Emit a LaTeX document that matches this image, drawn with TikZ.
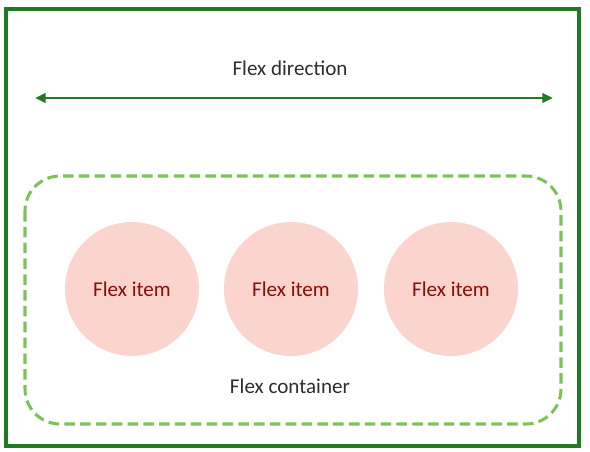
\documentclass[tikz,border=0pt]{standalone}
\usepackage{fontspec}
\setmainfont{Carlito}
\usetikzlibrary{arrows.meta}
\definecolor{framegreen}{HTML}{1F7A22}
\definecolor{dashgreen}{HTML}{7DC257}
\definecolor{itemfill}{HTML}{FBD5CD}
\definecolor{itemtext}{HTML}{8A0E06}
\definecolor{labeltext}{HTML}{2E2E2E}
\begin{document}
\begin{tikzpicture}[x=0.03cm, y=-0.03cm, >={Triangle[length=9pt, width=8pt]},
		item/.style={circle, fill=itemfill, minimum size=134*0.03cm, inner sep=0pt, text=itemtext, font=\fontsize{18}{21}\selectfont},
		caption/.style={text=labeltext, font=\fontsize{18}{21}\selectfont}]
				\useasboundingbox (0, 0) rectangle (590, 452);
				\draw[framegreen, line width=2.8pt] (6, 9) rectangle (579, 446);
				\coordinate (dirL) at (35, 98);
				\coordinate (dirR) at (553, 98);
				\draw[framegreen, line width=2.5pt, <->] (dirL) -- (dirR);
				\node[caption] (dir) at (290, 68) {Flex direction};
				\draw[dashgreen, line width=2.6pt, dash pattern=on 9pt off 4.5pt, rounded corners=1.05cm] (25, 176) rectangle (561, 424);
				\node[item] (item1) at (132, 289) {Flex item};
				\node[item] (item2) at (291, 289) {Flex item};
				\node[item] (item3) at (451, 289) {Flex item};
				\node[caption] (container) at (290, 386) {Flex container};
			\end{tikzpicture}
\end{document}
